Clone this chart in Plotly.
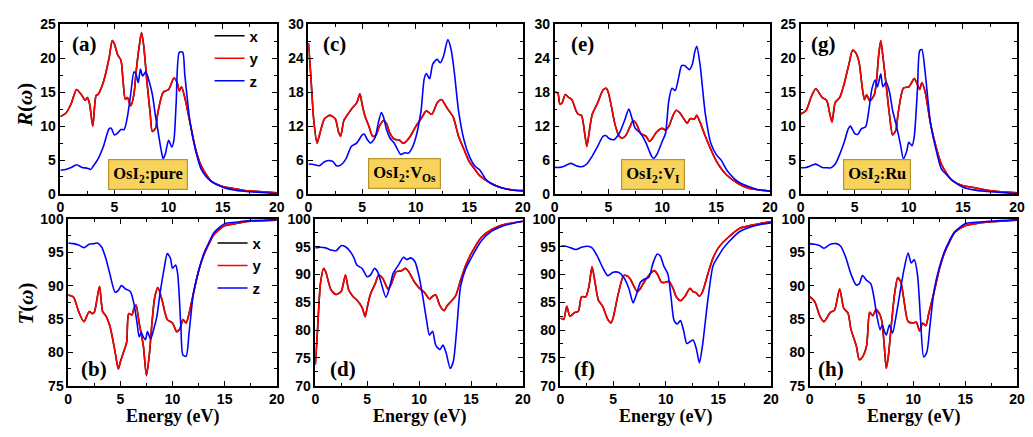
import plotly.graph_objects as go

# ---------------- DATA ----------------
# Panel (a) OsI2:pure reflectivity
E_a_y = [0,0.5,1,1.5,2,2.3,2.5,2.7,3,3.3,3.5,4,4.5,4.8,5,5.3,5.6,5.8,6,6.2,6.5,6.8,7,7.3,7.5,7.7,8,8.3,8.5,8.8,9,9.5,10,10.5,10.8,11,11.2,11.5,12,12.5,13,13.5,14,15,16,17,18,20]
R_a_y = [11.4,11.9,13.3,15.4,14.5,13.8,14.2,13.3,10.0,14.5,14.7,16.6,20.0,22.6,22.1,20.5,19.7,16.6,14.0,14.2,13.0,14.7,18.0,21.9,23.8,21.9,16.6,11.9,9.2,9.7,11.9,15.0,15.4,17.1,16.4,15.2,15.8,14.2,10.4,6.6,4.2,2.8,1.8,1.1,0.8,0.5,0.4,0.15]
E_a_z = [0,0.5,1,1.5,2,2.5,2.8,3,3.5,4,4.5,4.7,5,5.3,5.6,5.9,6.2,6.5,6.8,7,7.2,7.4,7.6,7.9,8.2,8.5,8.8,9,9.3,9.5,9.7,10,10.3,10.5,10.7,11,11.3,11.5,12,12.5,13,13.5,14,15,16,17,20]
R_a_z = [3.5,3.6,3.9,4.3,3.9,3.8,3.6,4.0,5.2,7.1,9.6,9.7,8.7,9.0,9.5,9.5,11.4,14.7,18.0,17.6,16.4,18.4,17.4,18.0,16.6,14.7,11.4,9.5,6.6,5.2,5.9,7.9,6.9,8.0,13.3,20.9,20.9,17.6,10.4,6.4,3.7,2.5,1.8,1.0,0.6,0.4,0.05]

# Panel (c) OsI2:V_Os reflectivity
E_c_y = [0,0.2,0.5,0.8,1,1.5,2,2.5,2.8,3,3.3,3.5,4,4.5,4.8,5,5.3,5.6,6,6.3,6.6,7,7.3,7.6,8,8.5,8.8,9,9.5,10,10.5,11,11.5,12,12.4,12.8,13,13.5,14,14.5,15,15.5,16,17,18,19,20]
R_c_y = [26.7,21.6,13.0,9.0,10.2,13.3,13.9,13.3,11.0,10.2,13.0,13.6,15.0,16.1,17.7,15.9,13.6,12.2,10.2,10.4,11.9,13.0,12.4,10.7,9.7,9.5,9.0,9.1,10.2,11.9,13.3,14.7,14.1,16.1,16.7,15.6,15.0,13.6,10.2,7.9,5.7,4.4,3.2,1.9,1.1,0.7,0.6]
E_c_z = [0,0.5,1,1.5,2,2.3,2.6,3,3.5,4,4.5,5,5.2,5.5,5.8,6.2,6.5,6.8,7,7.3,7.6,8,8.3,8.6,9,9.3,9.6,10,10.5,10.8,11,11.3,11.6,12,12.3,12.6,13,13.3,13.6,14,14.5,15,15.5,16,16.5,17,18,19,20]
R_c_z = [5.3,5.2,5.0,5.7,5.9,5.7,5.0,5.1,6.2,8.4,9.0,10.4,10.6,9.6,9.0,9.9,12.4,14.4,13.6,11.3,9.9,9.0,7.9,7.0,7.3,7.2,7.9,9.9,14.7,20.4,21.3,20.4,23.0,23.8,23.2,24.4,27.3,25.6,21.6,14.7,9.6,6.7,5.0,4.2,2.7,1.9,1.1,0.7,0.5]

# Panel (e) OsI2:V_I reflectivity
E_e_y = [0,0.3,0.5,0.7,1,1.3,1.6,2,2.2,2.5,2.8,3,3.2,3.5,4,4.5,4.8,5,5.3,5.6,6,6.3,6.6,7,7.3,7.6,8,8.5,8.8,9,9.5,10,10.3,10.6,11,11.3,11.6,12,12.3,12.6,13,13.2,13.5,14,14.5,15,15.5,16,17,18,19,20]
R_e_y = [18.0,17.9,15.9,16.1,17.6,17.1,16.7,14.7,14.1,13.9,10.7,8.4,10.7,14.1,16.1,18.4,18.7,17.9,15.3,12.4,10.2,9.9,10.3,11.9,13.0,12.4,10.7,10.2,9.3,9.6,11.0,11.6,11.3,11.9,13.9,14.8,14.4,13.3,12.5,13.3,13.3,13.9,12.7,10.2,7.9,5.9,4.4,3.3,1.9,1.0,0.7,0.5]
E_e_z = [0,0.5,1,1.5,2,2.5,3,3.5,4,4.5,4.8,5,5.5,6,6.5,6.9,7.2,7.5,8,8.5,9,9.2,9.5,10,10.3,10.6,10.9,11.2,11.5,11.8,12.1,12.5,12.8,13,13.2,13.5,14,14.5,15,15.5,16,17,18,19,20]
R_e_z = [4.7,4.7,5.0,5.4,5.0,4.8,5.3,6.7,8.4,10.2,10.3,9.9,9.6,10.7,13.0,15.0,13.3,11.6,10.7,9.0,6.7,6.3,7.0,9.3,10.7,16.4,18.7,18.3,20.4,22.7,22.7,22.0,23.0,25.0,26.1,23.0,14.1,9.0,7.0,5.9,4.2,2.2,1.3,0.7,0.5]

# Panel (g) OsI2:Ru reflectivity
E_g_y = [0,0.5,1,1.4,2,2.4,2.7,2.9,3.2,3.6,4,4.5,4.8,5.1,5.4,5.7,5.9,6.1,6.4,6.8,7,7.2,7.4,7.6,7.9,8.2,8.5,8.8,9,9.5,10,10.5,10.8,11,11.2,11.5,12,12.5,13,13.5,14,15,16,17,18,20]
R_g_y = [11.8,12.3,14.4,15.5,14.2,13.8,11.8,10.6,13.5,14.2,16.1,19.4,21.2,20.8,19.4,15.6,13.9,14.6,13.7,14.6,16.5,20.3,22.6,20.3,16.1,11.8,8.7,9.4,11.8,15.6,15.8,17.0,16.1,15.4,16.4,15.1,10.4,7.0,4.4,3.0,2.0,1.2,0.95,0.6,0.4,0.15]
E_g_z = [0,0.5,1,1.4,2,2.5,2.8,3.2,3.6,4,4.4,4.6,5,5.3,5.6,6,6.3,6.6,6.9,7.1,7.4,7.6,7.9,8.2,8.5,8.8,9.2,9.5,9.8,10,10.3,10.5,10.8,11,11.2,11.5,12,12.5,13,13.5,14,15,16,17,20]
R_g_z = [3.85,3.9,4.2,4.4,3.9,3.85,3.85,4.4,5.8,7.5,9.6,10.0,8.9,8.8,9.6,9.9,12.3,15.6,16.8,15.8,17.7,15.8,16.5,15.1,12.3,10.4,7.5,5.2,6.3,7.6,7.1,8.5,15.6,21.1,21.3,18.0,10.4,6.6,3.7,2.8,2.0,1.0,0.6,0.4,0.05]

# Panel (b) OsI2:pure transmittance
E_b_y = [0,0.5,1,1.5,2,2.3,2.5,3,3.3,3.6,4,4.5,4.8,5,5.3,5.6,5.8,6.1,6.3,6.5,6.8,7.2,7.5,7.8,8,8.3,8.6,9,9.5,10,10.4,10.7,11,11.3,11.6,12,12.5,13,13.5,14,15,16,17,18,20]
T_b_y = [88.6,88.3,86.1,84.6,86.1,85.8,86.0,89.9,86.1,85.5,83.9,80.0,77.5,78.6,80.0,81.5,85.8,85.6,86.6,87.1,84.4,81.0,76.5,80.0,83.9,88.3,89.7,87.8,84.9,84.4,83.1,83.5,84.9,84.4,85.9,88.8,92.2,94.6,96.3,97.7,99.0,99.3,99.6,99.7,99.8]
E_b_z = [0,0.5,1,1.5,2,2.5,2.8,3.2,3.6,4,4.5,4.8,5.1,5.5,5.8,6,6.3,6.6,6.8,7,7.2,7.4,7.6,7.9,8.2,8.5,8.8,9.2,9.5,9.8,10,10.3,10.5,10.8,11,11.3,11.6,12,12.5,13,13.5,14,15,16,17,20]
T_b_z = [96.4,96.3,96.1,95.7,96.2,96.3,96.4,95.8,94.1,91.7,89.0,89.3,90.0,89.5,89.3,89.0,87.3,84.4,82.3,83.0,82.3,81.9,83.1,82.0,83.5,85.4,88.8,92.6,94.8,94.1,92.6,93.1,91.7,83.9,79.6,79.4,83.1,88.8,92.2,94.8,96.5,98.0,99.3,99.5,99.7,99.9]

# Panel (d) OsI2:V_Os transmittance
E_d_y = [0,0.2,0.5,0.8,1,1.5,2,2.5,2.9,3.2,3.6,4,4.5,4.8,5,5.3,5.8,6.1,6.5,7,7.3,7.8,8.3,8.7,9,9.5,10,10.5,11,11.3,11.6,12,12.4,12.7,13,13.5,14,14.5,15,16,17,18,19,20]
T_d_y = [73.8,79.7,88.5,91.1,90.5,87.3,86.4,87.0,89.9,87.3,86.1,85.4,84.1,82.4,84.1,86.4,88.5,89.9,89.3,87.4,88.2,90.5,90.7,91.1,90.5,88.8,87.6,86.8,85.6,86.1,86.3,84.4,83.5,84.4,85.0,86.1,89.0,91.7,93.7,96.7,98.1,98.9,99.3,99.6]
E_d_z = [0,0.5,1,1.5,2,2.5,2.9,3.3,3.7,4,4.5,5,5.3,5.7,6,6.3,6.8,7.1,7.5,8,8.5,8.8,9.2,9.6,10,10.4,10.7,11,11.3,11.6,12,12.3,12.6,13,13.3,13.6,14,14.5,15,15.5,16,17,18,19,20]
T_d_z = [94.8,94.9,94.8,94.4,94.3,95.2,95.0,94.3,93.1,91.7,91.1,89.6,89.9,91.1,90.5,88.8,85.9,87.3,90.2,91.7,93.1,92.7,93.0,92.3,89.6,85.5,82.0,79.1,79.8,77.3,76.5,77.3,75.9,73.1,74.4,79.7,87.9,91.1,92.9,94.6,96.1,97.8,98.7,99.2,99.6]

# Panel (f) OsI2:V_I transmittance
E_f_y = [0,0.3,0.6,0.9,1.3,1.7,2,2.4,2.7,3,3.3,3.6,4,4.5,4.8,5,5.5,6,6.3,6.6,7,7.3,7.6,8,8.5,8.9,9.2,9.6,10,10.3,10.7,11,11.4,11.8,12.3,12.6,12.9,13.2,13.5,14,14.5,15,16,17,18,19,20]
T_f_y = [82.2,81.9,84.3,82.5,83.1,83.4,86.0,86.0,87.8,91.4,88.4,85.4,84.3,81.9,81.3,82.2,86.6,89.8,89.8,89.3,87.8,86.9,87.5,88.8,90.1,90.7,90.1,88.6,88.6,88.8,87.5,86.0,85.3,86.0,87.5,86.9,86.7,86.1,86.9,90.1,93.0,94.8,96.8,98.3,98.8,99.2,99.5]
E_f_z = [0,0.5,1,1.5,2,2.6,3,3.5,4,4.5,5,5.5,6,6.5,6.9,7.2,7.6,8,8.4,8.8,9.2,9.5,9.8,10.2,10.5,10.8,11.1,11.4,11.7,12,12.3,12.6,12.9,13.2,13.5,14,14.5,15,15.5,16,17,18,19,20]
T_f_z = [95.1,95.1,94.8,94.5,94.9,95.1,94.8,93.3,91.3,89.8,90.4,90.4,89.5,87.5,84.9,86.3,88.6,89.2,89.5,92.1,93.7,93.3,91.6,90.1,86.0,81.7,81.1,81.7,79.9,77.6,77.9,78.2,76.7,74.1,77.3,85.4,91.6,93.3,94.8,95.9,97.7,98.5,99.0,99.3]

# Panel (h) OsI2:Ru transmittance
E_h_y = [0,0.5,1,1.4,2,2.4,2.9,3.3,3.7,4,4.5,4.8,5.1,5.5,5.8,6.1,6.4,6.8,7,7.2,7.4,7.6,7.9,8.2,8.5,8.8,9.1,9.5,10,10.3,10.6,10.9,11.2,11.5,12,12.5,13,13.5,14,15,16,17,20]
T_h_y = [88.4,87.6,85.4,84.6,86.0,86.3,89.5,86.6,85.9,83.4,81.0,78.9,79.3,81.0,86.0,85.5,86.4,85.6,84.4,81.0,77.6,79.5,84.4,88.8,91.2,90.5,87.8,84.6,84.4,84.5,83.2,84.4,84.0,85.9,89.0,92.4,94.9,96.6,98.0,99.0,99.3,99.5,99.8]
E_h_z = [0,0.5,1,1.4,2,2.6,3,3.5,4,4.5,4.8,5.1,5.5,5.9,6.2,6.5,6.8,7,7.2,7.4,7.7,8,8.3,8.7,9.1,9.5,9.8,10.1,10.4,10.7,11,11.3,11.6,12,12.5,13,13.5,14,15,16,20]
T_h_z = [96.3,96.2,96.0,95.6,96.2,96.3,95.9,94.2,91.7,90.1,90.3,91.5,90.8,90.3,88.3,85.4,83.4,84.1,83.2,82.6,84.1,82.9,85.1,88.8,92.4,94.9,93.4,93.9,91.7,84.9,79.3,80.0,83.9,89.3,92.7,95.1,96.8,98.1,99.3,99.5,99.9]

panel_letters = ["(a)", "(b)", "(c)", "(d)", "(e)", "(f)", "(g)", "(h)"]
sample_labels = ["OsI<sub>2</sub>:pure", "OsI<sub>2</sub>:V<sub>Os</sub>",
                 "OsI<sub>2</sub>:V<sub>I</sub>", "OsI<sub>2</sub>:Ru"]
series_names = ["x", "y", "z"]

# ---------------- LAYOUT HELPERS ----------------
W, H = 1033, 437
def fx(p): return p / W
def fy(p): return 1 - p / H

colors = {"x": "#000000", "y": "#FF0000", "z": "#0000FF"}

panels = [
    ("a", E_a_y, R_a_y, E_a_z, R_a_z, (57, 276), (17, 193), (0, 25), 5),
    ("b", E_b_y, T_b_y, E_b_z, T_b_z, (65, 276), (219, 392), (75, 100), 5),
    ("c", E_c_y, R_c_y, E_c_z, R_c_z, (308, 525), (17, 193), (0, 30), 6),
    ("d", E_d_y, T_d_y, E_d_z, T_d_z, (315, 525), (219, 392), (70, 100), 5),
    ("e", E_e_y, R_e_y, E_e_z, R_e_z, (557, 775), (17, 193), (0, 30), 6),
    ("f", E_f_y, T_f_y, E_f_z, T_f_z, (563, 776), (219, 392), (70, 100), 5),
    ("g", E_g_y, R_g_y, E_g_z, R_g_z, (806, 1025), (17, 193), (0, 25), 5),
    ("h", E_h_y, T_h_y, E_h_z, T_h_z, (815, 1025), (219, 392), (75, 100), 5),
]

fig = go.Figure()
layout = {}
tickfont = dict(family="Arial, Liberation Sans", size=14, color="black", weight="bold")

for i, (name, Ey, Vy, Ez, Vz, xd, yd, yr, dt) in enumerate(panels):
    n = i + 1
    xa = "x" if n == 1 else f"x{n}"
    ya = "y" if n == 1 else f"y{n}"
    leg = None
    if name == "a":
        leg = "legend"
    elif name == "b":
        leg = "legend2"
    for s, (E, V) in zip(series_names, [(Ey, Vy), (Ey, Vy), (Ez, Vz)]):
        fig.add_trace(go.Scatter(
            x=E, y=V, mode="lines", name=s, xaxis=xa, yaxis=ya,
            line=dict(color=colors[s], width=1.6, shape="spline", smoothing=0.7),
            showlegend=leg is not None, legend=leg if leg else "legend",
        ))
    common = dict(showline=True, linecolor="black", linewidth=1.5, mirror="allticks",
                  ticks="inside", ticklen=5, tickwidth=1.3, tickcolor="black",
                  showgrid=False, zeroline=False, tickfont=tickfont)
    layout[f"xaxis{n}" if n > 1 else "xaxis"] = dict(
        domain=[fx(xd[0]), fx(xd[1])], range=[0, 20], anchor=ya, dtick=5, tick0=0,
        minor=dict(ticks="inside", ticklen=3, tickwidth=1.1, dtick=2.5, tickcolor="black", showgrid=False),
        **common)
    layout[f"yaxis{n}" if n > 1 else "yaxis"] = dict(
        domain=[fy(yd[1]), fy(yd[0])], range=list(yr), anchor=xa, dtick=dt, tick0=0,
        minor=dict(ticks="inside", ticklen=3, tickwidth=1.1, dtick=dt / 2, tickcolor="black", showgrid=False),
        **common)

annotations = []
letter_pos = {"a": (81, 37), "c": (334, 37), "e": (585, 37), "g": (829, 37),
              "b": (91, 375), "d": (343, 375), "f": (587, 375), "h": (837, 375)}
for k, (px, py) in letter_pos.items():
    annotations.append(dict(text=f"({k})", x=fx(px), y=fy(py), xref="paper", yref="paper",
                            showarrow=False, xanchor="center", yanchor="middle",
                            font=dict(family="Liberation Serif, Times New Roman", size=21,
                                      color="black", weight="bold")))
box_axes = [("x", "y", 8.1, 2.84), ("x3", "y3", 8.94, 3.58), ("x5", "y5", 9.13, 3.5), ("x7", "y7", 7.08, 2.84)]
for lab, (xr, yr_, bx, by) in zip(sample_labels, box_axes):
    annotations.append(dict(text=lab, x=bx, y=by, xref=xr, yref=yr_, showarrow=False,
                            xanchor="center", yanchor="middle",
                            bgcolor="#F8D35C", bordercolor="#B8932E", borderwidth=1.2, borderpad=4,
                            font=dict(family="Liberation Serif, Times New Roman", size=16.5,
                                      color="black", weight="bold")))
for cx in [(65 + 276) / 2, (315 + 525) / 2, (563 + 776) / 2, (815 + 1025) / 2]:
    annotations.append(dict(text="Energy (eV)", x=fx(cx), y=fy(424), xref="paper", yref="paper",
                            showarrow=False, xanchor="center", yanchor="middle",
                            font=dict(family="Liberation Serif, Times New Roman", size=18,
                                      color="black", weight="bold")))
for txt, py in [("<i>R</i>(<i>ω</i>)", 101), ("<i>T</i>(<i>ω</i>)", 307)]:
    annotations.append(dict(text=txt, x=fx(22), y=fy(py), xref="paper", yref="paper",
                            showarrow=False, textangle=-90, xanchor="center", yanchor="middle",
                            font=dict(family="Liberation Serif, Times New Roman", size=21,
                                      color="black", weight="bold")))

legfont = dict(family="Arial, Liberation Sans", size=15, color="black", weight="bold")
layout.update(
    width=W, height=H, margin=dict(l=0, r=0, t=0, b=0),
    paper_bgcolor="white", plot_bgcolor="white",
    annotations=annotations,
    legend=dict(x=fx(208), y=fy(12), xanchor="left", yanchor="top", bgcolor="rgba(0,0,0,0)",
                font=legfont, tracegroupgap=0, itemwidth=30),
    legend2=dict(x=fx(211), y=fy(227), xanchor="left", yanchor="top", bgcolor="rgba(0,0,0,0)",
                 font=legfont, tracegroupgap=0, itemwidth=30),
)
fig.update_layout(**layout)
fig.write_html("out.html")
